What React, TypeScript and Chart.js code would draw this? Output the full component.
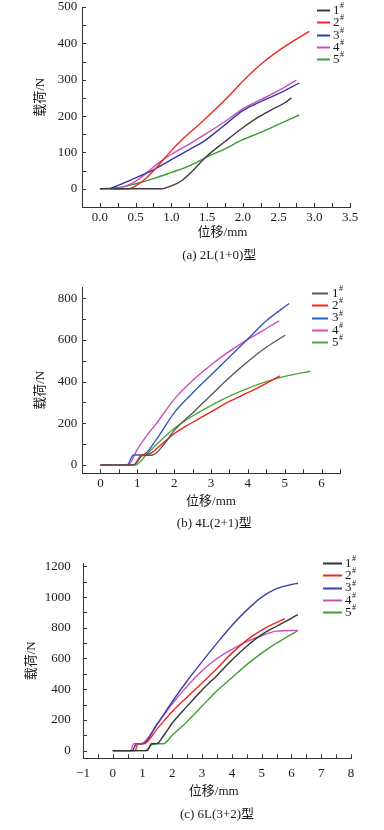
import React, { useEffect, useRef } from 'react';
import { Chart, registerables } from 'chart.js';

Chart.register(...registerables);

type Pt = [number, number];

const SERIES_LABELS = ['1#', '2#', '3#', '4#', '5#'];

// (a) 2L(1+0)型  — displacement (mm), load (N)
const A1: Pt[] = [[0, 0], [0.86, 0], [1.0, 8], [1.15, 23], [1.3, 50], [1.48, 87], [1.75, 130], [2.0, 168], [2.2, 195], [2.4, 217], [2.6, 238], [2.68, 250]];
const A2: Pt[] = [[0.15, 0], [0.4, 0], [0.5, 8], [0.65, 30], [0.8, 60], [1.0, 105], [1.15, 135], [1.4, 179], [1.75, 244], [2.0, 296], [2.3, 350], [2.6, 393], [2.93, 433]];
const A3: Pt[] = [[0.14, 0], [0.3, 13], [0.5, 30], [0.75, 52], [1.0, 80], [1.25, 108], [1.45, 130], [1.7, 168], [2.0, 215], [2.25, 240], [2.5, 262], [2.79, 291]];
const A4: Pt[] = [[0.25, 0], [0.45, 15], [0.6, 35], [0.8, 68], [1.0, 95], [1.25, 123], [1.5, 153], [1.75, 185], [2.0, 220], [2.25, 245], [2.5, 270], [2.75, 299]];
const A5: Pt[] = [[0, 0], [0.25, 3], [0.5, 14], [0.75, 28], [1.0, 45], [1.25, 63], [1.5, 88], [1.75, 110], [2.0, 135], [2.25, 155], [2.5, 177], [2.79, 203]];

// (b) 4L(2+1)型
const B1: Pt[] = [[0, 0], [0.9, 0], [1.15, 45], [1.42, 48], [1.75, 105], [2.0, 165], [2.5, 250], [3.0, 335], [3.5, 420], [4.0, 497], [4.5, 565], [5.02, 624]];
const B2: Pt[] = [[0, 0], [0.9, 0], [1.1, 45], [1.35, 55], [1.6, 90], [2.0, 150], [2.5, 205], [3.0, 255], [3.5, 305], [4.0, 347], [4.5, 392], [4.87, 428]];
const B3: Pt[] = [[0, 0], [0.72, 0], [0.9, 48], [1.15, 48], [1.5, 118], [2.0, 250], [2.5, 345], [3.0, 432], [3.5, 518], [4.0, 605], [4.5, 692], [5.12, 775]];
const B4: Pt[] = [[0, 0], [0.75, 0], [1.0, 75], [1.25, 140], [1.5, 195], [2.0, 315], [2.5, 405], [3.0, 480], [3.5, 545], [4.0, 603], [4.5, 655], [4.85, 692]];
const B5: Pt[] = [[0, 0], [0.95, 0], [1.25, 50], [1.5, 95], [2.0, 175], [2.5, 235], [3.0, 285], [3.5, 330], [4.0, 368], [4.5, 400], [5.0, 425], [5.7, 450]];

// (c) 6L(3+2)型
const C1: Pt[] = [[0, 0], [1.15, 0], [1.3, 45], [1.47, 45], [1.75, 110], [2.0, 180], [2.5, 290], [3.0, 395], [3.5, 490], [4.0, 590], [4.5, 680], [5.0, 755], [5.5, 810], [6.22, 885]];
const C2: Pt[] = [[0, 0], [0.75, 0], [0.85, 45], [1.05, 45], [1.5, 145], [2.0, 255], [2.5, 350], [3.0, 440], [3.5, 535], [4.0, 635], [4.5, 720], [5.0, 785], [5.4, 825], [5.78, 860]];
const C3: Pt[] = [[0, 0], [0.65, 0], [0.8, 45], [1.0, 45], [1.5, 175], [2.0, 320], [2.5, 455], [3.0, 580], [3.5, 700], [4.0, 815], [4.5, 915], [5.0, 1000], [5.5, 1055], [6.0, 1082], [6.22, 1090]];
const C4: Pt[] = [[0, 0], [0.6, 0], [0.7, 45], [0.95, 45], [1.5, 175], [2.0, 305], [2.5, 420], [3.0, 520], [3.5, 600], [4.0, 660], [4.5, 710], [5.0, 748], [5.5, 778], [6.22, 783]];
const C5: Pt[] = [[0, 0], [1.08, 0], [1.38, 45], [1.7, 45], [2.0, 100], [2.5, 190], [3.0, 290], [3.5, 390], [4.0, 475], [4.5, 560], [5.0, 635], [5.5, 700], [6.2, 780]];

const COLORS_A = ['#3c3c3c', '#f2261c', '#2b3aa6', '#cc4fb5', '#3b9a33'];
const COLORS_B = ['#5a5a5a', '#f2261c', '#3558c0', '#cc4fb5', '#4aa83a'];
const COLORS_C = ['#333333', '#f2261c', '#3a40b0', '#c94fb3', '#3fa035'];

const FONT = "'Liberation Serif', 'Times New Roman', 'Noto Sans CJK SC', serif";
const TXT = '#1a1a1a';
const AXIS = '#333333';
const FS = '\u2007';

const isMult = (v: number, step: number) => Math.abs(v / step - Math.round(v / step)) < 1e-6;

const mkTicks = (min: number, max: number, step: number) => {
  const out: { value: number }[] = [];
  const start = Math.ceil(min / step - 1e-9);
  const end = Math.floor(max / step + 1e-9);
  for (let k = start; k <= end; k++) out.push({ value: +(k * step).toFixed(6) });
  return out;
};

const inwardTicks = {
  id: 'inwardTicks',
  afterDraw(chart: any, _args: any, opts: any) {
    const ctx = chart.ctx;
    const { left, bottom } = chart.chartArea;
    const len = opts.len || 4;
    ctx.save();
    ctx.strokeStyle = AXIS;
    ctx.lineWidth = 1;
    const xs = chart.scales.x;
    for (const t of xs.ticks) {
      const v = t.value;
      if (v <= xs.min + 1e-9) continue;
      const p = Math.round(xs.getPixelForValue(v)) + 0.5;
      ctx.beginPath();
      ctx.moveTo(p, bottom);
      ctx.lineTo(p, bottom - len);
      ctx.stroke();
    }
    const ys = chart.scales.y;
    for (const t of ys.ticks) {
      const v = t.value;
      if (v <= ys.min + 1e-9) continue;
      const p = Math.round(ys.getPixelForValue(v)) + 0.5;
      ctx.beginPath();
      ctx.moveTo(left, p);
      ctx.lineTo(left + len, p);
      ctx.stroke();
    }
    ctx.restore();
  },
};

const seriesLegend = {
  id: 'seriesLegend',
  afterDraw(chart: any, _args: any, opts: any) {
    const ctx = chart.ctx;
    ctx.save();
    chart.data.datasets.forEach((ds: any, i: number) => {
      const y = opts.y0 + i * opts.dy;
      ctx.strokeStyle = ds.borderColor;
      ctx.lineWidth = 2;
      ctx.beginPath();
      ctx.moveTo(opts.x1, Math.round(y) + 0.5);
      ctx.lineTo(opts.x2, Math.round(y) + 0.5);
      ctx.stroke();
      const num = ds.label.replace('#', '');
      ctx.fillStyle = TXT;
      ctx.textAlign = 'left';
      ctx.textBaseline = 'middle';
      ctx.font = `13px ${FONT}`;
      ctx.fillText(num, opts.tx, y + 0.5);
      const w = ctx.measureText(num).width;
      ctx.font = `8px ${FONT}`;
      ctx.fillText('#', opts.tx + w + 0.5, y - 4);
    });
    ctx.restore();
  },
};

type PanelCfg = {
  top: number; height: number;
  series: Pt[][]; colors: string[];
  xMin: number; xMax: number; xStep: number; xLabelStep: number; xFmt: (v: number) => string;
  yMin: number; yMax: number; yStep: number; yLabelStep: number;
  padTop: number; padRight: number; padBottom: number; yWidth: number; xHeight: number;
  xTickPad: number; yTickPad: number; yTitlePad: number; captionPadTop: number;
  yTitle: string; xTitle: string; caption: string;
  legend: { x1: number; x2: number; tx: number; y0: number; dy: number };
};

const PANELS: PanelCfg[] = [
  {
    top: 0, height: 270, series: [A1, A2, A3, A4, A5], colors: COLORS_A,
    xMin: -0.25, xMax: 3.5, xStep: 0.25, xLabelStep: 0.5, xFmt: (v) => v.toFixed(1),
    yMin: -50, yMax: 500, yStep: 50, yLabelStep: 100,
    padTop: 7, padRight: 34, padBottom: 6.2, yWidth: 82, xHeight: 33.8,
    xTickPad: 4.5, yTickPad: 4.7, yTitlePad: 32.5, captionPadTop: 7.4,
    yTitle: FS + FS + FS + '载荷/N', xTitle: FS + FS + '位移/mm', caption: FS + '(a) 2L(1+0)型',
    legend: { x1: 317, x2: 330, tx: 333, y0: 10, dy: 12.3 },
  },
  {
    top: 270, height: 270, series: [B1, B2, B3, B4, B5], colors: COLORS_B,
    xMin: -0.5, xMax: 6.5, xStep: 0.5, xLabelStep: 1, xFmt: (v) => String(Math.round(v)),
    yMin: -40, yMax: 850, yStep: 100, yLabelStep: 200,
    padTop: 17.9, padRight: 44, padBottom: 8.9, yWidth: 82, xHeight: 36.2,
    xTickPad: 4, yTickPad: 4.7, yTitlePad: 32.5, captionPadTop: 6,
    yTitle: '载荷/N' + FS + FS + FS, xTitle: '位移/mm', caption: FS + '(b) 4L(2+1)型',
    legend: { x1: 312, x2: 328, tx: 332, y0: 23.3, dy: 12.1 },
  },
  {
    top: 540, height: 290, series: [C1, C2, C3, C4, C5], colors: COLORS_C,
    xMin: -1, xMax: 8, xStep: 0.5, xLabelStep: 1,
    xFmt: (v) => (v < 0 ? '\u2212' + String(Math.round(-v)) : String(Math.round(v))),
    yMin: -50, yMax: 1220, yStep: 100, yLabelStep: 200,
    padTop: 23.3, padRight: 33, padBottom: 7.2, yWidth: 83, xHeight: 41.2,
    xTickPad: 8.5, yTickPad: 12.3, yTitlePad: 23.9, captionPadTop: 7.7,
    yTitle: '载荷/N', xTitle: '位移/mm' + FS, caption: '(c) 6L(3+2)型',
    legend: { x1: 323, x2: 342, tx: 345, y0: 23.3, dy: 12.1 },
  },
];

function Panel({ cfg }: { cfg: PanelCfg }) {
  const ref = useRef<HTMLCanvasElement>(null);
  useEffect(() => {
    const xTickFont = { family: FONT, size: 13, lineHeight: 1 };
    const yTickFont = { family: FONT, size: 13, lineHeight: 0.2 };
    const titleFont = { family: FONT, size: 13, weight: 'normal' as const, lineHeight: 1.2 };
    const chart = new Chart(ref.current as HTMLCanvasElement, {
      type: 'line',
      data: {
        datasets: cfg.series.map((s, i) => ({
          label: SERIES_LABELS[i],
          data: s.map(([x, y]) => ({ x, y })),
          borderColor: cfg.colors[i],
          backgroundColor: cfg.colors[i],
          borderWidth: 1.4,
          pointRadius: 0,
          fill: false,
          cubicInterpolationMode: 'monotone' as const,
        })),
      },
      options: {
        responsive: false,
        animation: false,
        events: [],
        layout: { padding: { top: cfg.padTop, right: cfg.padRight, bottom: cfg.padBottom, left: 0 } },
        scales: {
          x: {
            type: 'linear',
            min: cfg.xMin,
            max: cfg.xMax,
            afterFit: (s: any) => { s.height = cfg.xHeight; },
            afterBuildTicks: (s: any) => { s.ticks = mkTicks(cfg.xMin, cfg.xMax, cfg.xStep); },
            grid: { display: false, drawTicks: false },
            border: { display: true, color: AXIS, width: 1 },
            ticks: {
              autoSkip: false,
              maxRotation: 0,
              minRotation: 0,
              padding: cfg.xTickPad,
              color: TXT,
              font: xTickFont,
              callback: (v: any) => (isMult(Number(v), cfg.xLabelStep) ? cfg.xFmt(Number(v)) : ''),
            },
            title: { display: true, text: cfg.xTitle, color: TXT, font: titleFont, padding: { top: 0, bottom: 0 } },
          },
          y: {
            type: 'linear',
            min: cfg.yMin,
            max: cfg.yMax,
            afterFit: (s: any) => { s.width = cfg.yWidth; },
            afterBuildTicks: (s: any) => { s.ticks = mkTicks(cfg.yMin, cfg.yMax, cfg.yStep); },
            grid: { display: false, drawTicks: false },
            border: { display: true, color: AXIS, width: 1 },
            ticks: {
              autoSkip: false,
              padding: cfg.yTickPad,
              color: TXT,
              font: yTickFont,
              callback: (v: any) => (isMult(Number(v), cfg.yLabelStep) && Number(v) >= 0 ? String(Math.round(Number(v))) : ''),
            },
            title: { display: true, text: cfg.yTitle, color: TXT, font: titleFont, padding: { top: cfg.yTitlePad, bottom: 0 } },
          },
        },
        plugins: {
          legend: { display: false },
          tooltip: { enabled: false },
          title: {
            display: true,
            text: cfg.caption,
            position: 'bottom',
            fullSize: false,
            color: TXT,
            font: titleFont,
            padding: { top: cfg.captionPadTop, bottom: 0 },
          },
          inwardTicks: { len: 4 },
          seriesLegend: cfg.legend,
        } as any,
      },
      plugins: [inwardTicks, seriesLegend],
    } as any);
    return () => chart.destroy();
  }, [cfg]);
  return (
    <canvas
      ref={ref}
      width={384}
      height={cfg.height}
      style={{ position: 'absolute', left: 0, top: cfg.top, width: 384, height: cfg.height, display: 'block' }}
    />
  );
}

export default function App() {
  return (
    <div style={{ position: 'absolute', left: 0, top: 0, width: 384, height: 830, background: '#ffffff', overflow: 'hidden' }}>
      {PANELS.map((cfg, i) => (
        <Panel key={i} cfg={cfg} />
      ))}
    </div>
  );
}
